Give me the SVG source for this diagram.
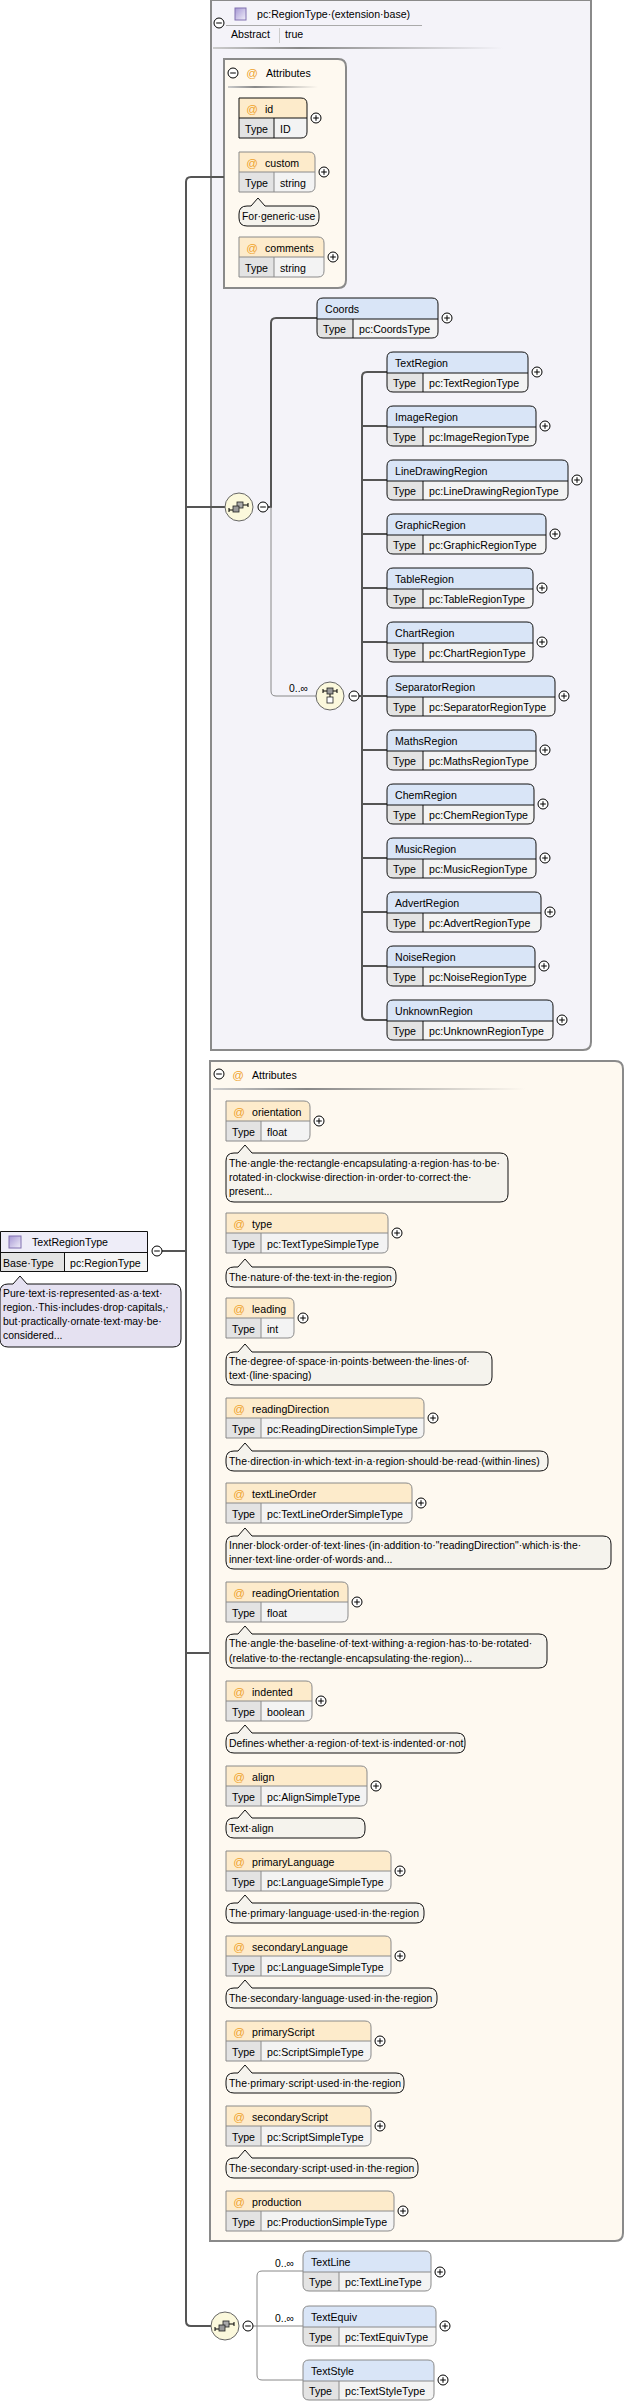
<svg xmlns="http://www.w3.org/2000/svg" width="626" height="2405" viewBox="0 0 626 2405">
<style>
text{font-family:"Liberation Sans",Arial,sans-serif;font-size:10.6px;fill:#000}
.nt{font-size:10.4px}
.at{fill:#efa22c;font-size:11.5px;text-anchor:middle}
.c{fill:none;stroke:#555;stroke-width:2}
.ct{fill:none;stroke:#888;stroke-width:1}
.eb{fill:#f3f3f3}
.eh{fill:#d9e5f7}
.ah{fill:#fdebcb}
.tc{fill:#e3e3e3}
.eo{fill:none;stroke:#111;stroke-width:1}
.ao{fill:none;stroke:#8a8a8a;stroke-width:1}
.aob{fill:none;stroke:#111;stroke-width:1}
.note{fill:#f5f3ed;stroke:#111;stroke-width:1}
.notel{fill:#e5e1f1;stroke:#111;stroke-width:1}
.pan{stroke:#8a8a8a;stroke-width:2}
</style>
<defs>
<linearGradient id="gl" x1="0" x2="1"><stop offset="0" stop-color="#ccc"/><stop offset="0.3" stop-color="#888"/><stop offset="1" stop-color="#888" stop-opacity="0"/></linearGradient>
<linearGradient id="gi" x1="0" y1="0" x2="1" y2="1"><stop offset="0" stop-color="#a596d4"/><stop offset="1" stop-color="#f1eff9"/></linearGradient>
<g id="plus"><circle r="5" fill="#fff" stroke="#000"/><path d="M-2.8,0H2.8M0,-2.8V2.8" stroke="#000"/></g>
<g id="minus"><circle r="5" fill="#fff" stroke="#000"/><path d="M-2.8,0H2.8" stroke="#000"/></g>
<g id="seq"><circle r="14" fill="#fbf8dc" stroke="#666"/><path d="M-10,1V5M-10,3H-6M4,-2H9M9,-4V0" stroke="#000" fill="none"/><rect x="-2" y="-5" width="6" height="6" fill="#aaa" stroke="#222" stroke-width="0.8"/><rect x="-6" y="-1" width="6" height="6" fill="#999" stroke="#222" stroke-width="0.8"/></g>
<g id="cho"><circle r="14" fill="#fbf8dc" stroke="#666"/><path d="M-7,-7V-3M-7,-5H7M7,-7V-3M0,-2V1" stroke="#000" fill="none"/><rect x="-3" y="-8" width="6" height="6" fill="#999" stroke="#222" stroke-width="0.8"/><rect x="-3" y="1" width="6" height="6" fill="#fff" stroke="#222" stroke-width="0.8"/></g>
</defs>
<rect width="626" height="2405" fill="#fff"/>

<g id="RegionTypePanel">
<path class="pan" d="M211,0H591V1042Q591,1050 583,1050H211Z" fill="#f4f3f9"/>
<rect x="235" y="8" width="11" height="12" fill="url(#gi)" stroke="#8070b0"/>
<text x="257" y="18">pc:RegionType·(extension·base)</text>
<path d="M226,25.5H422" stroke="#aaa"/>
<use href="#minus" x="219" y="23"/>
<text x="231" y="38">Abstract</text>
<path d="M279.5,28V43" stroke="#ccc"/>
<text x="285" y="38">true</text>
<rect x="213" y="47" width="290" height="2" fill="url(#gl)"/>
</g>

<g id="RegionTypeAttributes">
<path class="pan" d="M224,59H338Q346,59 346,67V280Q346,288 338,288H224Z" fill="#fef9f0"/>
<use href="#minus" x="233" y="73"/>
<text class="at" x="252" y="77">@</text>
<text x="266" y="77">Attributes</text>
<rect x="228" y="86" width="90" height="2" fill="url(#gl)"/>
</g>

<g id="attr-id" transform="translate(239,98)">
<path class="eb" d="M0,0H62Q68,0 68,6V34Q68,40 62,40H0Z"/>
<path class="ah" d="M0,0H62Q68,0 68,6V20H0Z"/>
<rect class="tc" x="0" y="20" width="35" height="20"/>
<path class="aob" d="M0,0H62Q68,0 68,6V34Q68,40 62,40H0ZM0,20H68M35,20V40"/>
<text class="at" x="13" y="15">@</text><text x="26" y="15">id</text>
<text x="6" y="35">Type</text><text x="41" y="35">ID</text>
<use href="#plus" x="77" y="20"/>
</g>
<g id="attr-custom" transform="translate(239,152)">
<path class="eb" d="M0,0H70Q76,0 76,6V34Q76,40 70,40H0Z"/>
<path class="ah" d="M0,0H70Q76,0 76,6V20H0Z"/>
<rect class="tc" x="0" y="20" width="35" height="20"/>
<path class="ao" d="M0,0H70Q76,0 76,6V34Q76,40 70,40H0ZM0,20H76M35,20V40"/>
<text class="at" x="13" y="15">@</text><text x="26" y="15">custom</text>
<text x="6" y="35">Type</text><text x="41" y="35">string</text>
<use href="#plus" x="85" y="20"/>
</g>
<g id="note-custom" transform="translate(239,206)">
<path class="note" d="M8,0H12L19,-8L26,0H72Q80,0 80,8V12Q80,20 72,20H8Q0,20 0,12V8Q0,0 8,0Z"/>
<text class="nt" x="3" y="14">For·generic·use</text>
</g>
<g id="attr-comments" transform="translate(239,237)">
<path class="eb" d="M0,0H79Q85,0 85,6V34Q85,40 79,40H0Z"/>
<path class="ah" d="M0,0H79Q85,0 85,6V20H0Z"/>
<rect class="tc" x="0" y="20" width="35" height="20"/>
<path class="ao" d="M0,0H79Q85,0 85,6V34Q85,40 79,40H0ZM0,20H85M35,20V40"/>
<text class="at" x="13" y="15">@</text><text x="26" y="15">comments</text>
<text x="6" y="35">Type</text><text x="41" y="35">string</text>
<use href="#plus" x="94" y="20"/>
</g>

<g id="connectors">
<path class="c" d="M224,177H191Q186,177 186,182V2321Q186,2326 191,2326H211"/>
<path class="c" d="M186,507H225M162,1251H186M186,1653H211"/>
<path class="c" d="M268,507H271V323Q271,318 276,318H317"/>
<path class="ct" d="M271,507V691Q271,696 276,696H316"/>
<path class="c" d="M359,696H362"/>
<path class="c" d="M387,372H367Q362,372 362,377V1015Q362,1020 367,1020H387M362,426H387M362,480H387M362,534H387M362,588H387M362,642H387M362,696H387M362,750H387M362,804H387M362,858H387M362,912H387M362,966H387"/>
<path class="ct" d="M253,2326H303M303,2271H262Q257,2271 257,2276V2375Q257,2380 262,2380H303"/>
<text class="nt" x="289" y="692">0..∞</text>
<text class="nt" x="275" y="2267">0..∞</text>
<text class="nt" x="275" y="2322">0..∞</text>
</g>

<g id="sequence1"><use href="#seq" x="239" y="507"/><use href="#minus" x="263" y="507"/></g>
<g id="choice1"><use href="#cho" x="330" y="696"/><use href="#minus" x="354" y="696"/></g>
<g id="sequence2"><use href="#seq" x="225" y="2326"/><use href="#minus" x="248" y="2326"/></g>

<g id="Coords" transform="translate(317,298)">
<path class="eb" d="M6,0H115Q121,0 121,6V34Q121,40 115,40H6Q0,40 0,34V6Q0,0 6,0Z"/>
<path class="eh" d="M0,21V6Q0,0 6,0H115Q121,0 121,6V21Z"/>
<path class="tc" d="M0,21H36V40H6Q0,40 0,34Z"/>
<path class="eo" d="M6,0H115Q121,0 121,6V34Q121,40 115,40H6Q0,40 0,34V6Q0,0 6,0ZM0,21H121M36,21V40"/>
<text x="8" y="15">Coords</text><text x="6" y="35">Type</text><text x="42" y="35">pc:CoordsType</text>
<use href="#plus" x="130" y="20"/>
</g>

<g id="TextRegion" transform="translate(387,352)">
<path class="eb" d="M6,0H135Q141,0 141,6V34Q141,40 135,40H6Q0,40 0,34V6Q0,0 6,0Z"/>
<path class="eh" d="M0,21V6Q0,0 6,0H135Q141,0 141,6V21Z"/>
<path class="tc" d="M0,21H36V40H6Q0,40 0,34Z"/>
<path class="eo" d="M6,0H135Q141,0 141,6V34Q141,40 135,40H6Q0,40 0,34V6Q0,0 6,0ZM0,21H141M36,21V40"/>
<text x="8" y="15">TextRegion</text><text x="6" y="35">Type</text><text x="42" y="35">pc:TextRegionType</text>
<use href="#plus" x="150" y="20"/>
</g>
<g id="ImageRegion" transform="translate(387,406)">
<path class="eb" d="M6,0H143Q149,0 149,6V34Q149,40 143,40H6Q0,40 0,34V6Q0,0 6,0Z"/>
<path class="eh" d="M0,21V6Q0,0 6,0H143Q149,0 149,6V21Z"/>
<path class="tc" d="M0,21H36V40H6Q0,40 0,34Z"/>
<path class="eo" d="M6,0H143Q149,0 149,6V34Q149,40 143,40H6Q0,40 0,34V6Q0,0 6,0ZM0,21H149M36,21V40"/>
<text x="8" y="15">ImageRegion</text><text x="6" y="35">Type</text><text x="42" y="35">pc:ImageRegionType</text>
<use href="#plus" x="158" y="20"/>
</g>
<g id="LineDrawingRegion" transform="translate(387,460)">
<path class="eb" d="M6,0H175Q181,0 181,6V34Q181,40 175,40H6Q0,40 0,34V6Q0,0 6,0Z"/>
<path class="eh" d="M0,21V6Q0,0 6,0H175Q181,0 181,6V21Z"/>
<path class="tc" d="M0,21H36V40H6Q0,40 0,34Z"/>
<path class="eo" d="M6,0H175Q181,0 181,6V34Q181,40 175,40H6Q0,40 0,34V6Q0,0 6,0ZM0,21H181M36,21V40"/>
<text x="8" y="15">LineDrawingRegion</text><text x="6" y="35">Type</text><text x="42" y="35">pc:LineDrawingRegionType</text>
<use href="#plus" x="190" y="20"/>
</g>
<g id="GraphicRegion" transform="translate(387,514)">
<path class="eb" d="M6,0H153Q159,0 159,6V34Q159,40 153,40H6Q0,40 0,34V6Q0,0 6,0Z"/>
<path class="eh" d="M0,21V6Q0,0 6,0H153Q159,0 159,6V21Z"/>
<path class="tc" d="M0,21H36V40H6Q0,40 0,34Z"/>
<path class="eo" d="M6,0H153Q159,0 159,6V34Q159,40 153,40H6Q0,40 0,34V6Q0,0 6,0ZM0,21H159M36,21V40"/>
<text x="8" y="15">GraphicRegion</text><text x="6" y="35">Type</text><text x="42" y="35">pc:GraphicRegionType</text>
<use href="#plus" x="168" y="20"/>
</g>
<g id="TableRegion" transform="translate(387,568)">
<path class="eb" d="M6,0H140Q146,0 146,6V34Q146,40 140,40H6Q0,40 0,34V6Q0,0 6,0Z"/>
<path class="eh" d="M0,21V6Q0,0 6,0H140Q146,0 146,6V21Z"/>
<path class="tc" d="M0,21H36V40H6Q0,40 0,34Z"/>
<path class="eo" d="M6,0H140Q146,0 146,6V34Q146,40 140,40H6Q0,40 0,34V6Q0,0 6,0ZM0,21H146M36,21V40"/>
<text x="8" y="15">TableRegion</text><text x="6" y="35">Type</text><text x="42" y="35">pc:TableRegionType</text>
<use href="#plus" x="155" y="20"/>
</g>
<g id="ChartRegion" transform="translate(387,622)">
<path class="eb" d="M6,0H140Q146,0 146,6V34Q146,40 140,40H6Q0,40 0,34V6Q0,0 6,0Z"/>
<path class="eh" d="M0,21V6Q0,0 6,0H140Q146,0 146,6V21Z"/>
<path class="tc" d="M0,21H36V40H6Q0,40 0,34Z"/>
<path class="eo" d="M6,0H140Q146,0 146,6V34Q146,40 140,40H6Q0,40 0,34V6Q0,0 6,0ZM0,21H146M36,21V40"/>
<text x="8" y="15">ChartRegion</text><text x="6" y="35">Type</text><text x="42" y="35">pc:ChartRegionType</text>
<use href="#plus" x="155" y="20"/>
</g>
<g id="SeparatorRegion" transform="translate(387,676)">
<path class="eb" d="M6,0H162Q168,0 168,6V34Q168,40 162,40H6Q0,40 0,34V6Q0,0 6,0Z"/>
<path class="eh" d="M0,21V6Q0,0 6,0H162Q168,0 168,6V21Z"/>
<path class="tc" d="M0,21H36V40H6Q0,40 0,34Z"/>
<path class="eo" d="M6,0H162Q168,0 168,6V34Q168,40 162,40H6Q0,40 0,34V6Q0,0 6,0ZM0,21H168M36,21V40"/>
<text x="8" y="15">SeparatorRegion</text><text x="6" y="35">Type</text><text x="42" y="35">pc:SeparatorRegionType</text>
<use href="#plus" x="177" y="20"/>
</g>
<g id="MathsRegion" transform="translate(387,730)">
<path class="eb" d="M6,0H143Q149,0 149,6V34Q149,40 143,40H6Q0,40 0,34V6Q0,0 6,0Z"/>
<path class="eh" d="M0,21V6Q0,0 6,0H143Q149,0 149,6V21Z"/>
<path class="tc" d="M0,21H36V40H6Q0,40 0,34Z"/>
<path class="eo" d="M6,0H143Q149,0 149,6V34Q149,40 143,40H6Q0,40 0,34V6Q0,0 6,0ZM0,21H149M36,21V40"/>
<text x="8" y="15">MathsRegion</text><text x="6" y="35">Type</text><text x="42" y="35">pc:MathsRegionType</text>
<use href="#plus" x="158" y="20"/>
</g>
<g id="ChemRegion" transform="translate(387,784)">
<path class="eb" d="M6,0H141Q147,0 147,6V34Q147,40 141,40H6Q0,40 0,34V6Q0,0 6,0Z"/>
<path class="eh" d="M0,21V6Q0,0 6,0H141Q147,0 147,6V21Z"/>
<path class="tc" d="M0,21H36V40H6Q0,40 0,34Z"/>
<path class="eo" d="M6,0H141Q147,0 147,6V34Q147,40 141,40H6Q0,40 0,34V6Q0,0 6,0ZM0,21H147M36,21V40"/>
<text x="8" y="15">ChemRegion</text><text x="6" y="35">Type</text><text x="42" y="35">pc:ChemRegionType</text>
<use href="#plus" x="156" y="20"/>
</g>
<g id="MusicRegion" transform="translate(387,838)">
<path class="eb" d="M6,0H143Q149,0 149,6V34Q149,40 143,40H6Q0,40 0,34V6Q0,0 6,0Z"/>
<path class="eh" d="M0,21V6Q0,0 6,0H143Q149,0 149,6V21Z"/>
<path class="tc" d="M0,21H36V40H6Q0,40 0,34Z"/>
<path class="eo" d="M6,0H143Q149,0 149,6V34Q149,40 143,40H6Q0,40 0,34V6Q0,0 6,0ZM0,21H149M36,21V40"/>
<text x="8" y="15">MusicRegion</text><text x="6" y="35">Type</text><text x="42" y="35">pc:MusicRegionType</text>
<use href="#plus" x="158" y="20"/>
</g>
<g id="AdvertRegion" transform="translate(387,892)">
<path class="eb" d="M6,0H148Q154,0 154,6V34Q154,40 148,40H6Q0,40 0,34V6Q0,0 6,0Z"/>
<path class="eh" d="M0,21V6Q0,0 6,0H148Q154,0 154,6V21Z"/>
<path class="tc" d="M0,21H36V40H6Q0,40 0,34Z"/>
<path class="eo" d="M6,0H148Q154,0 154,6V34Q154,40 148,40H6Q0,40 0,34V6Q0,0 6,0ZM0,21H154M36,21V40"/>
<text x="8" y="15">AdvertRegion</text><text x="6" y="35">Type</text><text x="42" y="35">pc:AdvertRegionType</text>
<use href="#plus" x="163" y="20"/>
</g>
<g id="NoiseRegion" transform="translate(387,946)">
<path class="eb" d="M6,0H142Q148,0 148,6V34Q148,40 142,40H6Q0,40 0,34V6Q0,0 6,0Z"/>
<path class="eh" d="M0,21V6Q0,0 6,0H142Q148,0 148,6V21Z"/>
<path class="tc" d="M0,21H36V40H6Q0,40 0,34Z"/>
<path class="eo" d="M6,0H142Q148,0 148,6V34Q148,40 142,40H6Q0,40 0,34V6Q0,0 6,0ZM0,21H148M36,21V40"/>
<text x="8" y="15">NoiseRegion</text><text x="6" y="35">Type</text><text x="42" y="35">pc:NoiseRegionType</text>
<use href="#plus" x="157" y="20"/>
</g>
<g id="UnknownRegion" transform="translate(387,1000)">
<path class="eb" d="M6,0H160Q166,0 166,6V34Q166,40 160,40H6Q0,40 0,34V6Q0,0 6,0Z"/>
<path class="eh" d="M0,21V6Q0,0 6,0H160Q166,0 166,6V21Z"/>
<path class="tc" d="M0,21H36V40H6Q0,40 0,34Z"/>
<path class="eo" d="M6,0H160Q166,0 166,6V34Q166,40 160,40H6Q0,40 0,34V6Q0,0 6,0ZM0,21H166M36,21V40"/>
<text x="8" y="15">UnknownRegion</text><text x="6" y="35">Type</text><text x="42" y="35">pc:UnknownRegionType</text>
<use href="#plus" x="175" y="20"/>
</g>

<g id="TextRegionType">
<rect x="0.5" y="1231.5" width="147" height="40" fill="#f4f4f4"/>
<rect x="0.5" y="1231.5" width="147" height="21" fill="#eeedf8"/>
<rect x="0.5" y="1252.5" width="64" height="19" fill="#e3e3e3"/>
<path d="M0.5,1231.5H147.5V1271.5H0.5ZM0.5,1252.5H147.5M64.5,1252.5V1271.5" fill="none" stroke="#111"/>
<rect x="9" y="1236" width="12" height="12" fill="url(#gi)" stroke="#8070b0"/>
<text x="32" y="1246">TextRegionType</text>
<text x="3" y="1267">Base·Type</text>
<text x="70" y="1267">pc:RegionType</text>
<use href="#minus" x="157" y="1251"/>
</g>
<g id="note-TextRegionType" transform="translate(0,1284)">
<path class="notel" d="M8,0H13L20,-8L27,0H173Q181,0 181,8V55Q181,63 173,63H8Q0,63 0,55V8Q0,0 8,0Z"/>
<text class="nt" x="3" y="13">Pure·text·is·represented·as·a·text·</text>
<text class="nt" x="3" y="27">region.·This·includes·drop·capitals,·</text>
<text class="nt" x="3" y="41">but·practically·ornate·text·may·be·</text>
<text class="nt" x="3" y="55">considered...</text>
</g>

<g id="TextRegionTypeAttributes">
<path class="pan" d="M210,1061H615Q623,1061 623,1069V2233Q623,2241 615,2241H210Z" fill="#fef9f0"/>
<use href="#minus" x="219" y="1074"/>
<text class="at" x="238" y="1079">@</text>
<text x="252" y="1079">Attributes</text>
<rect x="213" y="1088" width="312" height="2" fill="url(#gl)"/>
</g>

<g id="attr-orientation" transform="translate(226,1101)">
<path class="eb" d="M0,0H78Q84,0 84,6V34Q84,40 78,40H0Z"/>
<path class="ah" d="M0,0H78Q84,0 84,6V20H0Z"/>
<rect class="tc" x="0" y="20" width="35" height="20"/>
<path class="ao" d="M0,0H78Q84,0 84,6V34Q84,40 78,40H0ZM0,20H84M35,20V40"/>
<text class="at" x="13" y="15">@</text><text x="26" y="15">orientation</text>
<text x="6" y="35">Type</text><text x="41" y="35">float</text>
<use href="#plus" x="93" y="20"/>
</g>
<g id="note-orientation" transform="translate(226,1153)">
<path class="note" d="M8,0H12L19,-8L26,0H274Q282,0 282,8V41Q282,49 274,49H8Q0,49 0,41V8Q0,0 8,0Z"/>
<text class="nt" x="3" y="14">The·angle·the·rectangle·encapsulating·a·region·has·to·be·</text>
<text class="nt" x="3" y="28">rotated·in·clockwise·direction·in·order·to·correct·the·</text>
<text class="nt" x="3" y="42">present...</text>
</g>

<g id="attr-type" transform="translate(226,1213)">
<path class="eb" d="M0,0H156Q162,0 162,6V34Q162,40 156,40H0Z"/>
<path class="ah" d="M0,0H156Q162,0 162,6V20H0Z"/>
<rect class="tc" x="0" y="20" width="35" height="20"/>
<path class="ao" d="M0,0H156Q162,0 162,6V34Q162,40 156,40H0ZM0,20H162M35,20V40"/>
<text class="at" x="13" y="15">@</text><text x="26" y="15">type</text>
<text x="6" y="35">Type</text><text x="41" y="35">pc:TextTypeSimpleType</text>
<use href="#plus" x="171" y="20"/>
</g>
<g id="note-type" transform="translate(226,1267)">
<path class="note" d="M8,0H12L19,-8L26,0H162Q170,0 170,8V12Q170,20 162,20H8Q0,20 0,12V8Q0,0 8,0Z"/>
<text class="nt" x="3" y="14">The·nature·of·the·text·in·the·region</text>
</g>

<g id="attr-leading" transform="translate(226,1298)">
<path class="eb" d="M0,0H62Q68,0 68,6V34Q68,40 62,40H0Z"/>
<path class="ah" d="M0,0H62Q68,0 68,6V20H0Z"/>
<rect class="tc" x="0" y="20" width="35" height="20"/>
<path class="ao" d="M0,0H62Q68,0 68,6V34Q68,40 62,40H0ZM0,20H68M35,20V40"/>
<text class="at" x="13" y="15">@</text><text x="26" y="15">leading</text>
<text x="6" y="35">Type</text><text x="41" y="35">int</text>
<use href="#plus" x="77" y="20"/>
</g>
<g id="note-leading" transform="translate(226,1352)">
<path class="note" d="M8,0H12L19,-8L26,0H258Q266,0 266,8V25Q266,33 258,33H8Q0,33 0,25V8Q0,0 8,0Z"/>
<text class="nt" x="3" y="13">The·degree·of·space·in·points·between·the·lines·of·</text>
<text class="nt" x="3" y="27">text·(line·spacing)</text>
</g>

<g id="attr-readingDirection" transform="translate(226,1398)">
<path class="eb" d="M0,0H192Q198,0 198,6V34Q198,40 192,40H0Z"/>
<path class="ah" d="M0,0H192Q198,0 198,6V20H0Z"/>
<rect class="tc" x="0" y="20" width="35" height="20"/>
<path class="ao" d="M0,0H192Q198,0 198,6V34Q198,40 192,40H0ZM0,20H198M35,20V40"/>
<text class="at" x="13" y="15">@</text><text x="26" y="15">readingDirection</text>
<text x="6" y="35">Type</text><text x="41" y="35">pc:ReadingDirectionSimpleType</text>
<use href="#plus" x="207" y="20"/>
</g>
<g id="note-readingDirection" transform="translate(226,1451)">
<path class="note" d="M8,0H12L19,-8L26,0H314Q322,0 322,8V12Q322,20 314,20H8Q0,20 0,12V8Q0,0 8,0Z"/>
<text class="nt" x="3" y="14">The·direction·in·which·text·in·a·region·should·be·read·(within·lines)</text>
</g>

<g id="attr-textLineOrder" transform="translate(226,1483)">
<path class="eb" d="M0,0H180Q186,0 186,6V34Q186,40 180,40H0Z"/>
<path class="ah" d="M0,0H180Q186,0 186,6V20H0Z"/>
<rect class="tc" x="0" y="20" width="35" height="20"/>
<path class="ao" d="M0,0H180Q186,0 186,6V34Q186,40 180,40H0ZM0,20H186M35,20V40"/>
<text class="at" x="13" y="15">@</text><text x="26" y="15">textLineOrder</text>
<text x="6" y="35">Type</text><text x="41" y="35">pc:TextLineOrderSimpleType</text>
<use href="#plus" x="195" y="20"/>
</g>
<g id="note-textLineOrder" transform="translate(226,1536)">
<path class="note" d="M8,0H12L19,-8L26,0H377Q385,0 385,8V25Q385,33 377,33H8Q0,33 0,25V8Q0,0 8,0Z"/>
<text class="nt" x="3" y="13">Inner·block·order·of·text·lines·(in·addition·to·"readingDirection"·which·is·the·</text>
<text class="nt" x="3" y="27">inner·text·line·order·of·words·and...</text>
</g>

<g id="attr-readingOrientation" transform="translate(226,1582)">
<path class="eb" d="M0,0H116Q122,0 122,6V34Q122,40 116,40H0Z"/>
<path class="ah" d="M0,0H116Q122,0 122,6V20H0Z"/>
<rect class="tc" x="0" y="20" width="35" height="20"/>
<path class="ao" d="M0,0H116Q122,0 122,6V34Q122,40 116,40H0ZM0,20H122M35,20V40"/>
<text class="at" x="13" y="15">@</text><text x="26" y="15">readingOrientation</text>
<text x="6" y="35">Type</text><text x="41" y="35">float</text>
<use href="#plus" x="131" y="20"/>
</g>
<g id="note-readingOrientation" transform="translate(226,1634)">
<path class="note" d="M8,0H12L19,-8L26,0H313Q321,0 321,8V26Q321,34 313,34H8Q0,34 0,26V8Q0,0 8,0Z"/>
<text class="nt" x="3" y="13">The·angle·the·baseline·of·text·withing·a·region·has·to·be·rotated·</text>
<text class="nt" x="3" y="28">(relative·to·the·rectangle·encapsulating·the·region)...</text>
</g>

<g id="attr-indented" transform="translate(226,1681)">
<path class="eb" d="M0,0H80Q86,0 86,6V34Q86,40 80,40H0Z"/>
<path class="ah" d="M0,0H80Q86,0 86,6V20H0Z"/>
<rect class="tc" x="0" y="20" width="35" height="20"/>
<path class="ao" d="M0,0H80Q86,0 86,6V34Q86,40 80,40H0ZM0,20H86M35,20V40"/>
<text class="at" x="13" y="15">@</text><text x="26" y="15">indented</text>
<text x="6" y="35">Type</text><text x="41" y="35">boolean</text>
<use href="#plus" x="95" y="20"/>
</g>
<g id="note-indented" transform="translate(226,1733)">
<path class="note" d="M8,0H12L19,-8L26,0H231Q239,0 239,8V12Q239,20 231,20H8Q0,20 0,12V8Q0,0 8,0Z"/>
<text class="nt" x="3" y="14">Defines·whether·a·region·of·text·is·indented·or·not</text>
</g>

<g id="attr-align" transform="translate(226,1766)">
<path class="eb" d="M0,0H135Q141,0 141,6V34Q141,40 135,40H0Z"/>
<path class="ah" d="M0,0H135Q141,0 141,6V20H0Z"/>
<rect class="tc" x="0" y="20" width="35" height="20"/>
<path class="ao" d="M0,0H135Q141,0 141,6V34Q141,40 135,40H0ZM0,20H141M35,20V40"/>
<text class="at" x="13" y="15">@</text><text x="26" y="15">align</text>
<text x="6" y="35">Type</text><text x="41" y="35">pc:AlignSimpleType</text>
<use href="#plus" x="150" y="20"/>
</g>
<g id="note-align" transform="translate(226,1818)">
<path class="note" d="M8,0H12L19,-8L26,0H131Q139,0 139,8V12Q139,20 131,20H8Q0,20 0,12V8Q0,0 8,0Z"/>
<text class="nt" x="3" y="14">Text·align</text>
</g>

<g id="attr-primaryLanguage" transform="translate(226,1851)">
<path class="eb" d="M0,0H159Q165,0 165,6V34Q165,40 159,40H0Z"/>
<path class="ah" d="M0,0H159Q165,0 165,6V20H0Z"/>
<rect class="tc" x="0" y="20" width="35" height="20"/>
<path class="ao" d="M0,0H159Q165,0 165,6V34Q165,40 159,40H0ZM0,20H165M35,20V40"/>
<text class="at" x="13" y="15">@</text><text x="26" y="15">primaryLanguage</text>
<text x="6" y="35">Type</text><text x="41" y="35">pc:LanguageSimpleType</text>
<use href="#plus" x="174" y="20"/>
</g>
<g id="note-primaryLanguage" transform="translate(226,1903)">
<path class="note" d="M8,0H12L19,-8L26,0H190Q198,0 198,8V12Q198,20 190,20H8Q0,20 0,12V8Q0,0 8,0Z"/>
<text class="nt" x="3" y="14">The·primary·language·used·in·the·region</text>
</g>

<g id="attr-secondaryLanguage" transform="translate(226,1936)">
<path class="eb" d="M0,0H159Q165,0 165,6V34Q165,40 159,40H0Z"/>
<path class="ah" d="M0,0H159Q165,0 165,6V20H0Z"/>
<rect class="tc" x="0" y="20" width="35" height="20"/>
<path class="ao" d="M0,0H159Q165,0 165,6V34Q165,40 159,40H0ZM0,20H165M35,20V40"/>
<text class="at" x="13" y="15">@</text><text x="26" y="15">secondaryLanguage</text>
<text x="6" y="35">Type</text><text x="41" y="35">pc:LanguageSimpleType</text>
<use href="#plus" x="174" y="20"/>
</g>
<g id="note-secondaryLanguage" transform="translate(226,1988)">
<path class="note" d="M8,0H12L19,-8L26,0H203Q211,0 211,8V12Q211,20 203,20H8Q0,20 0,12V8Q0,0 8,0Z"/>
<text class="nt" x="3" y="14">The·secondary·language·used·in·the·region</text>
</g>

<g id="attr-primaryScript" transform="translate(226,2021)">
<path class="eb" d="M0,0H139Q145,0 145,6V34Q145,40 139,40H0Z"/>
<path class="ah" d="M0,0H139Q145,0 145,6V20H0Z"/>
<rect class="tc" x="0" y="20" width="35" height="20"/>
<path class="ao" d="M0,0H139Q145,0 145,6V34Q145,40 139,40H0ZM0,20H145M35,20V40"/>
<text class="at" x="13" y="15">@</text><text x="26" y="15">primaryScript</text>
<text x="6" y="35">Type</text><text x="41" y="35">pc:ScriptSimpleType</text>
<use href="#plus" x="154" y="20"/>
</g>
<g id="note-primaryScript" transform="translate(226,2073)">
<path class="note" d="M8,0H12L19,-8L26,0H170Q178,0 178,8V12Q178,20 170,20H8Q0,20 0,12V8Q0,0 8,0Z"/>
<text class="nt" x="3" y="14">The·primary·script·used·in·the·region</text>
</g>

<g id="attr-secondaryScript" transform="translate(226,2106)">
<path class="eb" d="M0,0H139Q145,0 145,6V34Q145,40 139,40H0Z"/>
<path class="ah" d="M0,0H139Q145,0 145,6V20H0Z"/>
<rect class="tc" x="0" y="20" width="35" height="20"/>
<path class="ao" d="M0,0H139Q145,0 145,6V34Q145,40 139,40H0ZM0,20H145M35,20V40"/>
<text class="at" x="13" y="15">@</text><text x="26" y="15">secondaryScript</text>
<text x="6" y="35">Type</text><text x="41" y="35">pc:ScriptSimpleType</text>
<use href="#plus" x="154" y="20"/>
</g>
<g id="note-secondaryScript" transform="translate(226,2158)">
<path class="note" d="M8,0H12L19,-8L26,0H184Q192,0 192,8V12Q192,20 184,20H8Q0,20 0,12V8Q0,0 8,0Z"/>
<text class="nt" x="3" y="14">The·secondary·script·used·in·the·region</text>
</g>

<g id="attr-production" transform="translate(226,2191)">
<path class="eb" d="M0,0H162Q168,0 168,6V34Q168,40 162,40H0Z"/>
<path class="ah" d="M0,0H162Q168,0 168,6V20H0Z"/>
<rect class="tc" x="0" y="20" width="35" height="20"/>
<path class="ao" d="M0,0H162Q168,0 168,6V34Q168,40 162,40H0ZM0,20H168M35,20V40"/>
<text class="at" x="13" y="15">@</text><text x="26" y="15">production</text>
<text x="6" y="35">Type</text><text x="41" y="35">pc:ProductionSimpleType</text>
<use href="#plus" x="177" y="20"/>
</g>

<g id="TextLine" transform="translate(303,2251)">
<path class="eb" d="M6,0H122Q128,0 128,6V34Q128,40 122,40H6Q0,40 0,34V6Q0,0 6,0Z"/>
<path class="eh" d="M0,21V6Q0,0 6,0H122Q128,0 128,6V21Z"/>
<path class="tc" d="M0,21H36V40H6Q0,40 0,34Z"/>
<path class="ao" d="M6,0H122Q128,0 128,6V34Q128,40 122,40H6Q0,40 0,34V6Q0,0 6,0ZM0,21H128M36,21V40"/>
<text x="8" y="15">TextLine</text><text x="6" y="35">Type</text><text x="42" y="35">pc:TextLineType</text>
<use href="#plus" x="137" y="21"/>
</g>
<g id="TextEquiv" transform="translate(303,2306)">
<path class="eb" d="M6,0H127Q133,0 133,6V34Q133,40 127,40H6Q0,40 0,34V6Q0,0 6,0Z"/>
<path class="eh" d="M0,21V6Q0,0 6,0H127Q133,0 133,6V21Z"/>
<path class="tc" d="M0,21H36V40H6Q0,40 0,34Z"/>
<path class="ao" d="M6,0H127Q133,0 133,6V34Q133,40 127,40H6Q0,40 0,34V6Q0,0 6,0ZM0,21H133M36,21V40"/>
<text x="8" y="15">TextEquiv</text><text x="6" y="35">Type</text><text x="42" y="35">pc:TextEquivType</text>
<use href="#plus" x="142" y="20"/>
</g>
<g id="TextStyle" transform="translate(303,2360)">
<path class="eb" d="M6,0H125Q131,0 131,6V34Q131,40 125,40H6Q0,40 0,34V6Q0,0 6,0Z"/>
<path class="eh" d="M0,21V6Q0,0 6,0H125Q131,0 131,6V21Z"/>
<path class="tc" d="M0,21H36V40H6Q0,40 0,34Z"/>
<path class="ao" d="M6,0H125Q131,0 131,6V34Q131,40 125,40H6Q0,40 0,34V6Q0,0 6,0ZM0,21H131M36,21V40"/>
<text x="8" y="15">TextStyle</text><text x="6" y="35">Type</text><text x="42" y="35">pc:TextStyleType</text>
<use href="#plus" x="140" y="20"/>
</g>
</svg>
